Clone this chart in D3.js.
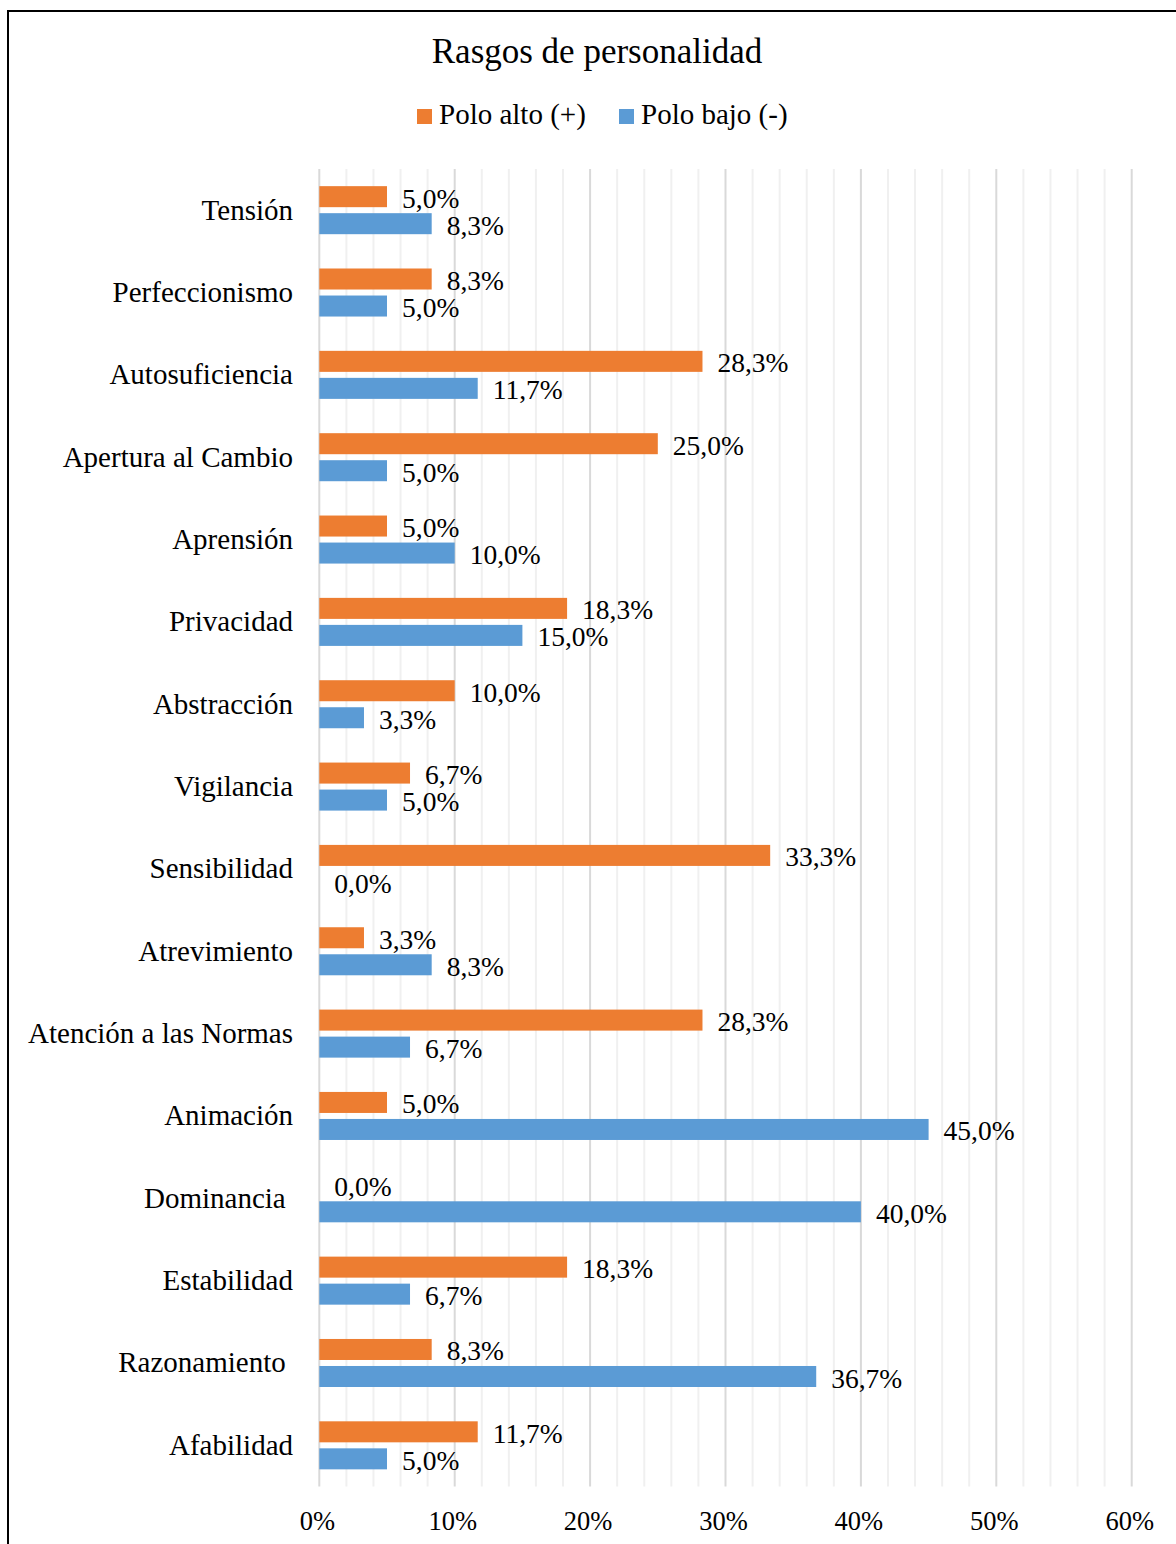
<!DOCTYPE html>
<html>
<head>
<meta charset="utf-8">
<script src="https://cdn.jsdelivr.net/npm/d3@7"></script>
<style>
  html, body { margin: 0; padding: 0; background: #fff; }
  svg { display: block; font-family: "Liberation Serif", "Times New Roman", serif; }
</style>
</head>
<body>
<svg id="chart" width="1176" height="1544"></svg>
<script>
const categories = [
  "Tensión", "Perfeccionismo", "Autosuficiencia", "Apertura al Cambio",
  "Aprensión", "Privacidad", "Abstracción", "Vigilancia", "Sensibilidad",
  "Atrevimiento", "Atención a las Normas", "Animación", "Dominancia ",
  "Estabilidad", "Razonamiento ", "Afabilidad"
];
const poloAlto = [5.0, 8.3, 28.3, 25.0, 5.0, 18.3, 10.0, 6.7, 33.3, 3.3, 28.3, 5.0, 0.0, 18.3, 8.3, 11.7];
const poloBajo = [8.3, 5.0, 11.7, 5.0, 10.0, 15.0, 3.3, 5.0, 0.0, 8.3, 6.7, 45.0, 40.0, 6.7, 36.7, 5.0];
const seriesNames = ["Polo alto (+)", "Polo bajo (-)"];
const seriesColors = ["#ED7D31", "#5B9BD5"];
const tickValues = [0, 10, 20, 30, 40, 50, 60];
const title = "Rasgos de personalidad";

const svg = d3.select("#chart");

// outer border
svg.append("rect").attr("x", 8).attr("y", 11).attr("width", 1300).attr("height", 1700)
  .attr("fill", "none").attr("stroke", "#000").attr("stroke-width", 2);

const x = d3.scaleLinear().domain([0, 60]).range([319.3, 1131.7]);
const y = d3.scaleBand().domain(categories).range([169, 1486.5]).paddingInner(0).paddingOuter(0);
const keys = ["alto", "bajo"];
const yInner = d3.scaleBand().domain(keys).range([0, y.bandwidth()]).paddingInner(6 / 27).paddingOuter(0.635);

// gridlines: minor every 2%, major every 10%
const minor = d3.range(0, 61, 2);
svg.append("g").selectAll("line").data(minor).join("line")
  .attr("x1", d => x(d)).attr("x2", d => x(d))
  .attr("y1", 169).attr("y2", 1486.5)
  .attr("stroke", d => d % 10 === 0 ? "#d9d9d9" : "#f0f0f0")
  .attr("stroke-width", 2);

// bars
const rows = categories.map((c, i) => ({ cat: c, alto: poloAlto[i], bajo: poloBajo[i] }));
const g = svg.append("g");
keys.forEach((k, ki) => {
  g.selectAll("rect." + k).data(rows).join("rect")
    .attr("class", k)
    .attr("x", x(0))
    .attr("y", d => y(d.cat) + yInner(k))
    .attr("width", d => x(d[k]) - x(0))
    .attr("height", yInner.bandwidth())
    .attr("fill", seriesColors[ki]);
  g.selectAll("text." + k).data(rows).join("text")
    .attr("class", k)
    .attr("x", d => x(d[k]) + 15)
    .attr("y", d => y(d.cat) + yInner(k) + yInner.bandwidth() + 0.5)
    .attr("font-size", 27.5)
    .attr("fill", "#000")
    .text(d => d[k].toFixed(1).replace(".", ",") + "%");
});

// category labels
svg.append("g").selectAll("text").data(categories).join("text")
  .attr("x", 293)
  .attr("y", d => y(d) + y.bandwidth() / 2 + 9.5)
  .attr("text-anchor", "end")
  .attr("font-size", 29)
  .style("white-space", "pre")
  .attr("fill", "#000")
  .text(d => d);

// x tick labels
svg.append("g").selectAll("text").data(tickValues).join("text")
  .attr("x", d => x(d) - 2)
  .attr("y", 1530)
  .attr("text-anchor", "middle")
  .attr("font-size", 26.5)
  .attr("fill", "#000")
  .text(d => d + "%");

// title
svg.append("text").attr("x", 597).attr("y", 63).attr("text-anchor", "middle")
  .attr("font-size", 35).attr("fill", "#000").text(title);

// legend
const legendItems = [{ x: 417, tx: 439 }, { x: 619, tx: 641 }];
legendItems.forEach((li, i) => {
  svg.append("rect").attr("x", li.x).attr("y", 109).attr("width", 15).attr("height", 15).attr("fill", seriesColors[i]);
  svg.append("text").attr("x", li.tx).attr("y", 124).attr("font-size", 29).attr("fill", "#000").text(seriesNames[i]);
});
</script>
</body>
</html>
